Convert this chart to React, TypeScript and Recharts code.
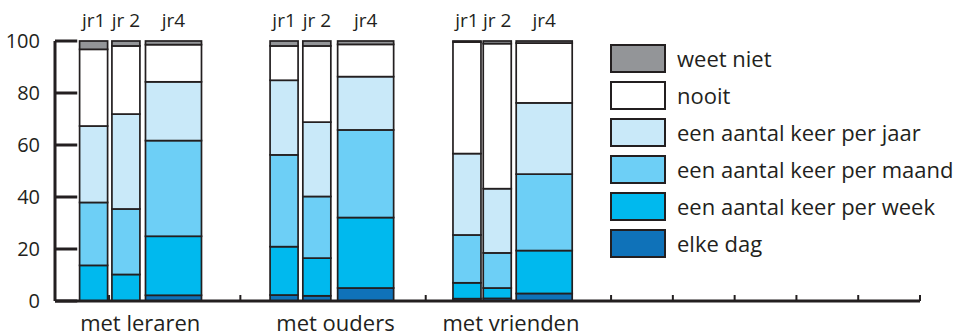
import React from 'react';
import { BarChart, Bar, XAxis, YAxis, LabelList, Legend, ReferenceLine } from 'recharts';

// categories
const groups = ['met leraren', 'met ouders', 'met vrienden'];
const groupPos = [1.38, 4.54, 7.38];
const years = ['jr1', 'jr 2', 'jr4', 'jr1', 'jr 2', 'jr4', 'jr1', 'jr 2', 'jr4'];
const barPos = [0.627, 1.15, 1.92, 3.71, 4.24, 5.03, 6.67, 7.16, 7.92];
const barSize = [1, 1, 2, 1, 1, 2, 1, 1, 2];

// series values (percent)
const elkeDag = [0, 0, 2.2, 2.3, 2.0, 5.0, 0.9, 1.0, 2.9];
const perWeek = [13.7, 10.2, 22.7, 18.6, 14.5, 27.1, 6.1, 4.0, 16.5];
const perMaand = [24.2, 25.2, 36.8, 35.3, 23.7, 33.7, 18.4, 13.5, 29.4];
const perJaar = [29.4, 36.5, 22.6, 28.7, 28.6, 20.5, 31.3, 24.7, 27.4];
const nooit = [29.5, 26.2, 14.3, 13.2, 29.3, 12.4, 42.9, 55.8, 23.0];
const weetNiet = [3.2, 1.9, 1.4, 1.9, 1.9, 1.3, 0.4, 1.0, 0.8];

const yTicks = [0, 20, 40, 60, 80, 100];
const xTicks = [0.875, 3, 6, 9, 10, 11, 12, 13, 14];
const yTickLen = 0.36; // in x units, ticks point inward
const xTickLen = 2.3; // in y units, ticks point up

const ink = '#231f20';
const font = "'Open Sans', sans-serif";

const series = [
  { key: 'dag', name: 'elke dag', color: '#0f72b9', values: elkeDag },
  { key: 'week', name: 'een aantal keer per week', color: '#00b9ee', values: perWeek },
  { key: 'maand', name: 'een aantal keer per maand', color: '#6dcff6', values: perMaand },
  { key: 'jaar', name: 'een aantal keer per jaar', color: '#c9e9f9', values: perJaar },
  { key: 'nooit', name: 'nooit', color: '#ffffff', values: nooit },
  { key: 'weet', name: 'weet niet', color: '#939598', values: weetNiet },
];

const data = years.map((year, i) => {
  const row: any = { year, pos: barPos[i], size: barSize[i] };
  series.forEach((s) => {
    row[s.key] = s.values[i];
  });
  return row;
});

const Segment = (props: any) => {
  const { x, y, width, height, fill, payload } = props;
  if (!height || height <= 0) return null;
  const w = width * payload.size;
  const cx = x + width / 2;
  return <rect x={cx - w / 2} y={y} width={w} height={height} fill={fill} stroke={ink} strokeWidth={1.7} />;
};

const YearLabel = (props: any) => {
  const { x, y, width, value } = props;
  return (
    <text x={x + width / 2} y={y - 14} textAnchor="middle" fontSize={19} fill={ink} fontFamily={font}>
      {value}
    </text>
  );
};

const LegendBox = () => (
  <div style={{ fontFamily: font, fontSize: 22, color: ink }}>
    {[...series].reverse().map((s) => (
      <div key={s.key} style={{ display: 'flex', alignItems: 'center', height: 29, marginBottom: 8.1 }}>
        <div
          style={{
            width: 56,
            height: 29,
            boxSizing: 'border-box',
            border: `2px solid ${ink}`,
            background: s.color,
            marginRight: 11,
          }}
        />
        <span style={{ whiteSpace: 'nowrap', lineHeight: '29px' }}>{s.name}</span>
      </div>
    ))}
  </div>
);

export default function App() {
  return (
    <div style={{ position: 'fixed', left: 0, top: 0, background: '#fff' }}>
      <BarChart
        width={964}
        height={336}
        data={data}
        margin={{ top: 41, right: 44, left: 0, bottom: 5 }}
        style={{ fontFamily: font }}
      >
        <XAxis
          dataKey="pos"
          type="number"
          domain={[0, 14]}
          ticks={groupPos}
          height={30}
          axisLine={false}
          tickLine={false}
          tickSize={0}
          tickMargin={14}
          tick={{ fill: ink, fontSize: 22, fontFamily: font }}
          tickFormatter={(v: number) => groups[groupPos.indexOf(v)] ?? ''}
        />
        <YAxis
          type="number"
          domain={[0, 100]}
          ticks={yTicks}
          width={55}
          axisLine={false}
          tickLine={false}
          tickSize={0}
          tickMargin={15}
          tick={{ fill: ink, fontSize: 20, fontFamily: font }}
        />
        <Legend
          layout="vertical"
          align="center"
          verticalAlign="middle"
          wrapperStyle={{ left: 610, top: 44, width: 354 }}
          content={<LegendBox />}
        />
        {series.map((s, i) => (
          <Bar
            key={s.key}
            dataKey={s.key}
            name={s.name}
            stackId="a"
            fill={s.color}
            barSize={28}
            shape={<Segment />}
            isAnimationActive={false}
          >
            {i === series.length - 1 && <LabelList dataKey="year" content={<YearLabel />} />}
          </Bar>
        ))}
        <ReferenceLine y={0} stroke={ink} strokeWidth={3} />
        <ReferenceLine x={0} stroke={ink} strokeWidth={3} />
        {yTicks.map((v) => (
          <ReferenceLine
            key={`y${v}`}
            segment={[
              { x: 0, y: v },
              { x: yTickLen, y: v },
            ]}
            stroke={ink}
            strokeWidth={3}
          />
        ))}
        {xTicks.map((t) => (
          <ReferenceLine
            key={`x${t}`}
            segment={[
              { x: t, y: 0 },
              { x: t, y: xTickLen },
            ]}
            stroke={ink}
            strokeWidth={2}
          />
        ))}
      </BarChart>
    </div>
  );
}
